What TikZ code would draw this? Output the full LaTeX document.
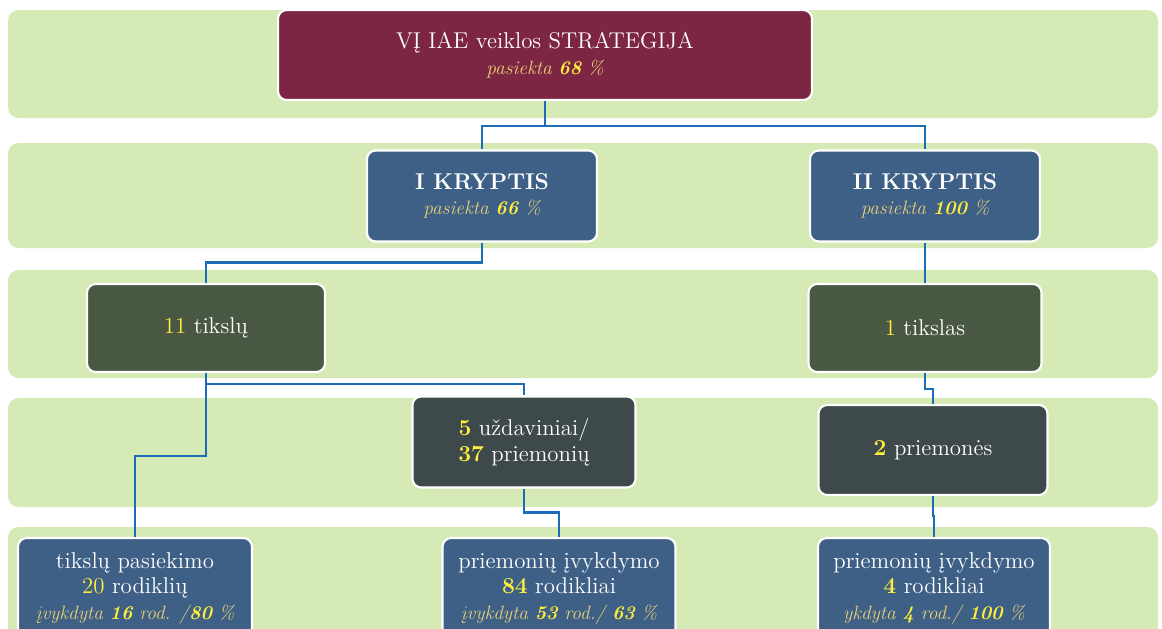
\documentclass[tikz,border=0pt]{standalone}
\usepackage{amsmath}
\usepackage{xcolor}
\usepackage{tikz}
\usetikzlibrary{calc}

\definecolor{bandgreen}{RGB}{213,234,180}
\definecolor{stratred}{RGB}{124,38,68}
\definecolor{dirblue}{RGB}{62,96,134}
\definecolor{goalgreen}{RGB}{72,88,66}
\definecolor{taskgray}{RGB}{62,73,76}
\definecolor{linkblue}{RGB}{28,108,182}
\definecolor{numyellow}{RGB}{255,238,60}
\definecolor{subtan}{RGB}{232,208,120}

\newcommand{\ynum}[1]{\textcolor{numyellow}{\bfseries #1}}
\newcommand{\subline}[1]{{\fontsize{11}{13}\selectfont\itshape\color{subtan}#1}}

\begin{document}
\begin{tikzpicture}[x=0.2mm, y=-0.2mm, thick,
    band/.style = {fill=bandgreen, rounded corners=6pt},
    main/.style = {draw=white, line width=1.2pt, rounded corners=5pt, text=white, align=center, inner sep=0pt, font=\fontsize{13}{14.5}\selectfont},
    link/.style = {draw=linkblue, line width=1.4pt}]
    \clip (0,0) rectangle (1162,628);
    \fill[white] (0,0) rectangle (1162,628);

    % bands
    \foreach \ya/\yb in {10/118, 143/248, 270/378, 398/507, 527/660}
        \fill[band] (8,\ya) rectangle (1158,\yb);

    \node [main, fill=stratred, minimum width=106.8mm, minimum height=18mm] (0) at (545,55) {V\k{I} IAE veiklos STRATEGIJA\\ \subline{pasiekta \ynum{68} \%}};
    \node [main, fill=dirblue, minimum width=46mm, minimum height=18.2mm] (1) at (482,196) {{\bfseries I KRYPTIS}\\ \subline{pasiekta \ynum{66} \%}};
    \node [main, fill=dirblue, minimum width=46mm, minimum height=18.2mm] (2) at (925,196) {{\bfseries II KRYPTIS}\\ \subline{pasiekta \ynum{100} \%}};
    \node [main, fill=goalgreen, minimum width=47.6mm, minimum height=17.6mm] (3) at (206,328) {\textcolor{numyellow}{11} tiksl\k{u}};
    \node [main, fill=goalgreen, minimum width=46.6mm, minimum height=17.6mm] (4) at (925,328) {\textcolor{numyellow}{1} tikslas};
    \node [main, fill=taskgray, minimum width=44.6mm, minimum height=18.2mm] (5) at (524,442) {\ynum{5} u\v{z}daviniai/\\ \ynum{37} priemoni\k{u}};
    \node [main, fill=taskgray, minimum width=45.8mm, minimum height=18mm] (6) at (933,450) {\ynum{2} priemon\.{e}s};
    \node [main, fill=dirblue, minimum width=46.8mm, minimum height=20mm] (7) at (135,588) {tiksl\k{u} pasiekimo\\ \textcolor{numyellow}{20} rodikli\k{u}\\ \subline{\k{i}vykdyta \ynum{16} rod. /\ynum{80} \%}};
    \node [main, fill=dirblue, minimum width=46.6mm, minimum height=20mm] (8) at (559,588) {priemoni\k{u} \k{i}vykdymo\\ \ynum{84} rodikliai\\ \subline{\k{i}vykdyta \ynum{53} rod./ \ynum{63} \%}};
    \node [main, fill=dirblue, minimum width=46.4mm, minimum height=20mm] (9) at (934,588) {priemoni\k{u} \k{i}vykdymo\\ \ynum{4} rodikliai\\ \subline{ykdyta \ynum{4} rod./ \ynum{100} \%}};

    \draw[link] (0.south) -- ++(0,25) -| (1.north);
    \draw[link] (0.south) -- ++(0,25) -| (2.north);
    \draw[link] (1.south) -- ++(0,20) -| (3.north);
    \draw[link] (2.south) -- (4.north);
    \draw[link] (3.south) -- ++(0,11) -| (5.north);
    \draw[link] (3.south) -- ++(0,83) -| (7.north);
    \draw[link] (5.south) -- ++(0,24) -| (8.north);
    \draw[link] (4.south) -- ++(0,16) -| (6.north);
    \draw[link] (6.south) -- ++(0,20) -| (9.north);

\end{tikzpicture}
\end{document}
